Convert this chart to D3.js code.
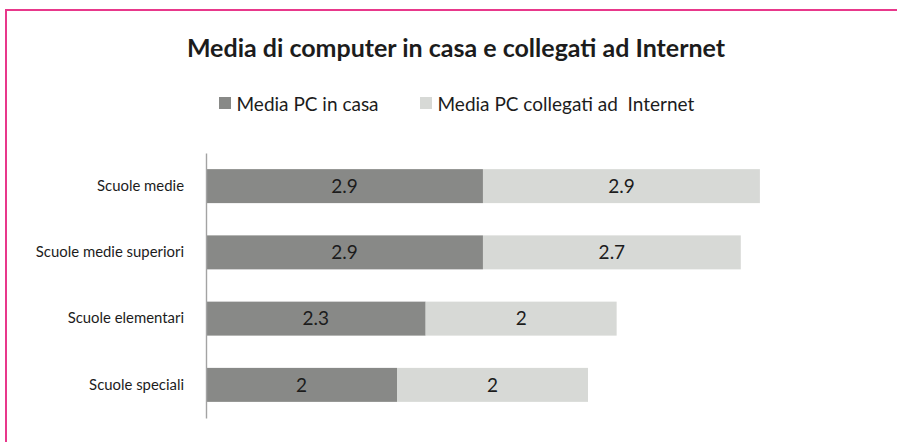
<!DOCTYPE html>
<html>
<head>
<meta charset="utf-8">
<script src="https://cdn.jsdelivr.net/npm/d3@7"></script>
<style>
  html, body { margin: 0; padding: 0; background: #fff; }
  svg { display: block; font-family: Lato, "Open Sans", sans-serif; }
</style>
</head>
<body>
<svg id="chart" width="897" height="442"></svg>
<script>
// School types, top to bottom
const categories = ["Scuole medie", "Scuole medie superiori", "Scuole elementari", "Scuole speciali"];
// Average number of PCs at home
const pcInCasa = [2.9, 2.9, 2.3, 2];
// Average number of PCs connected to the Internet
const pcInternet = [2.9, 2.7, 2, 2];
const seriesNames = ["Media PC in casa", "Media PC collegati ad\u00a0 Internet"];
const seriesColors = ["#888987", "#d7d9d6"];

const svg = d3.select("#chart");

// outer frame
svg.append("rect")
  .attr("x", 6).attr("y", 10)
  .attr("width", 910).attr("height", 450)
  .attr("fill", "#fff")
  .attr("stroke", "#e8388b").attr("stroke-width", 2);

// title
svg.append("text")
  .attr("x", 456).attr("y", 57)
  .attr("text-anchor", "middle")
  .attr("font-size", 25).attr("font-weight", "bold")
  .attr("fill", "#1c1c1c")
  .text("Media di computer in casa e collegati ad Internet");

// legend
const legendItems = [
  { name: seriesNames[0], color: seriesColors[0], x: 219 },
  { name: seriesNames[1], color: seriesColors[1], x: 420 }
];
const lg = svg.append("g").selectAll("g").data(legendItems).join("g")
  .attr("transform", d => `translate(${d.x},97)`);
lg.append("rect").attr("width", 12).attr("height", 12).attr("fill", d => d.color);
lg.append("text")
  .attr("x", 17.5).attr("y", 13.8)
  .attr("font-size", 19).attr("fill", "#1c1c1c")
  .text(d => d.name);

// scales
const x = d3.scaleLinear().domain([0, 6]).range([206, 779]);
const y = d3.scaleBand().domain(categories).range([153, 418])
  .paddingInner(0.487).paddingOuter(0.2435);

const rows = categories.map((c, i) => ({ cat: c, a: pcInCasa[i], b: pcInternet[i] }));
const stack = d3.stack().keys(["a", "b"])(rows);

const layers = svg.append("g").selectAll("g").data(stack).join("g")
  .attr("fill", (d, i) => seriesColors[i]);

layers.selectAll("rect").data(d => d).join("rect")
  .attr("x", d => x(d[0]))
  .attr("y", d => y(d.data.cat))
  .attr("width", d => x(d[1]) - x(d[0]))
  .attr("height", y.bandwidth());

// value labels, centred in each segment
layers.each(function (layer) {
  d3.select(this).selectAll("text").data(layer).join("text")
    .attr("x", d => (x(d[0]) + x(d[1])) / 2)
    .attr("y", d => y(d.data.cat) + y.bandwidth() / 2)
    .attr("dy", "0.36em")
    .attr("text-anchor", "middle")
    .attr("font-size", 19).attr("fill", "#1c1c1c")
    .text(d => d.data[layer.key]);
});

// category axis
const yAxis = svg.append("g")
  .attr("transform", `translate(${x(0)},0)`)
  .call(d3.axisLeft(y).tickSize(0).tickPadding(22));
yAxis.select(".domain").attr("stroke", "#a3a3a3").attr("stroke-width", 1.4);
yAxis.selectAll("text")
  .attr("font-size", 14.9).attr("fill", "#1c1c1c")
  .style("font-family", "Lato, 'Open Sans', sans-serif");
</script>
</body>
</html>
